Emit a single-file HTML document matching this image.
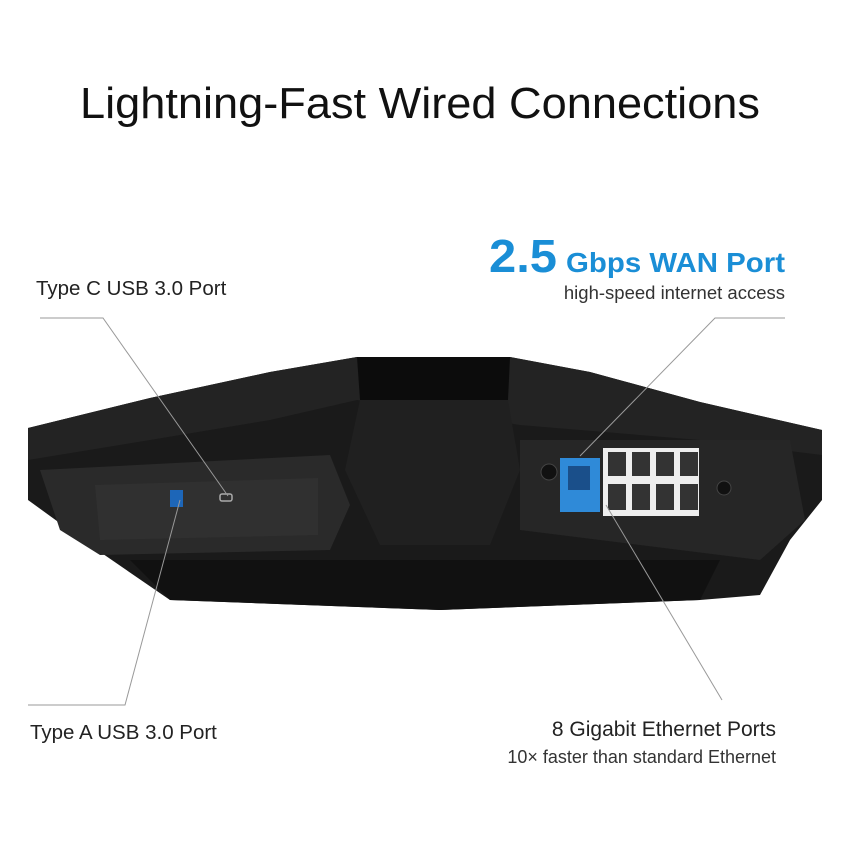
<!DOCTYPE html>
<html><head><style>
body{margin:0;width:850px;height:850px;background:#fff;overflow:hidden;font-family:"Liberation Sans",sans-serif;}
</style></head><body>
<svg width="850" height="850" viewBox="0 0 850 850" xmlns="http://www.w3.org/2000/svg" font-family="Liberation Sans, sans-serif">
<text x="80" y="118" font-size="44" textLength="680" lengthAdjust="spacingAndGlyphs" fill="#111">Lightning-Fast Wired Connections</text>
<text x="36" y="295" font-size="20.5" fill="#222">Type C USB 3.0 Port</text>
<text x="30" y="739" font-size="20.5" fill="#222">Type A USB 3.0 Port</text>
<text x="489" y="272" font-size="46" font-weight="bold" fill="#1a8ed6" textLength="68" lengthAdjust="spacingAndGlyphs">2.5</text>
<text x="566" y="272" font-size="28" font-weight="bold" fill="#1a8ed6" textLength="219" lengthAdjust="spacingAndGlyphs">Gbps WAN Port</text>
<text x="785" y="299" text-anchor="end" font-size="18.5" fill="#333">high-speed internet access</text>
<text x="776" y="736" text-anchor="end" font-size="21" fill="#222">8 Gigabit Ethernet Ports</text>
<text x="776" y="763" text-anchor="end" font-size="18" fill="#333">10× faster than standard Ethernet</text>
<!-- router -->
<polygon points="28,428 150,398 270,372 357,357 510,357 590,372 700,402 822,430 822,500 790,540 760,595 700,600 440,610 170,600 90,545 28,500" fill="#1a1a1a"/>
<polygon points="28,428 150,398 270,372 357,357 510,357 590,372 700,402 822,430 822,455 700,440 520,425 357,400 270,420 150,440 28,460" fill="#232323"/>
<polygon points="357,357 510,357 508,400 360,400" fill="#0c0c0c"/>
<polygon points="40,470 330,455 350,505 330,550 100,555 60,530" fill="#2a2a2a"/>
<polygon points="95,485 318,478 318,535 100,540" fill="#303030"/>
<polygon points="360,400 508,400 520,470 490,545 380,545 345,470" fill="#202020"/>
<polygon points="520,440 790,440 805,520 760,560 520,530" fill="#262626"/>
<polygon points="130,560 720,560 700,600 440,610 170,600" fill="#111"/>
<rect x="170" y="490" width="13" height="17" fill="#1d66b8"/>
<rect x="220" y="494" width="12" height="7" rx="2" fill="none" stroke="#aaa" stroke-width="1.5"/>
<circle cx="549" cy="472" r="8" fill="#111" stroke="#444"/>
<rect x="560" y="458" width="40" height="44" fill="#2f8ad8"/>
<rect x="568" y="466" width="22" height="24" fill="#1a4f8a"/>
<rect x="560" y="502" width="40" height="10" fill="#2f8ad8"/>
<rect x="603" y="448" width="96" height="68" fill="#eee"/>
<g fill="#333">
<rect x="608" y="452" width="18" height="24"/><rect x="632" y="452" width="18" height="24"/><rect x="656" y="452" width="18" height="24"/><rect x="680" y="452" width="18" height="24"/>
<rect x="608" y="484" width="18" height="26"/><rect x="632" y="484" width="18" height="26"/><rect x="656" y="484" width="18" height="26"/><rect x="680" y="484" width="18" height="26"/>
</g>
<circle cx="724" cy="488" r="7" fill="#111" stroke="#444"/>
<g stroke="#999" stroke-width="1" fill="none">
<polyline points="40,318 103,318 228,496"/>
<polyline points="28,705 125,705 180,500"/>
<polyline points="785,318 715,318 580,456"/>
<polyline points="722,700 606,505"/>
</g>
</svg>
</body></html>
